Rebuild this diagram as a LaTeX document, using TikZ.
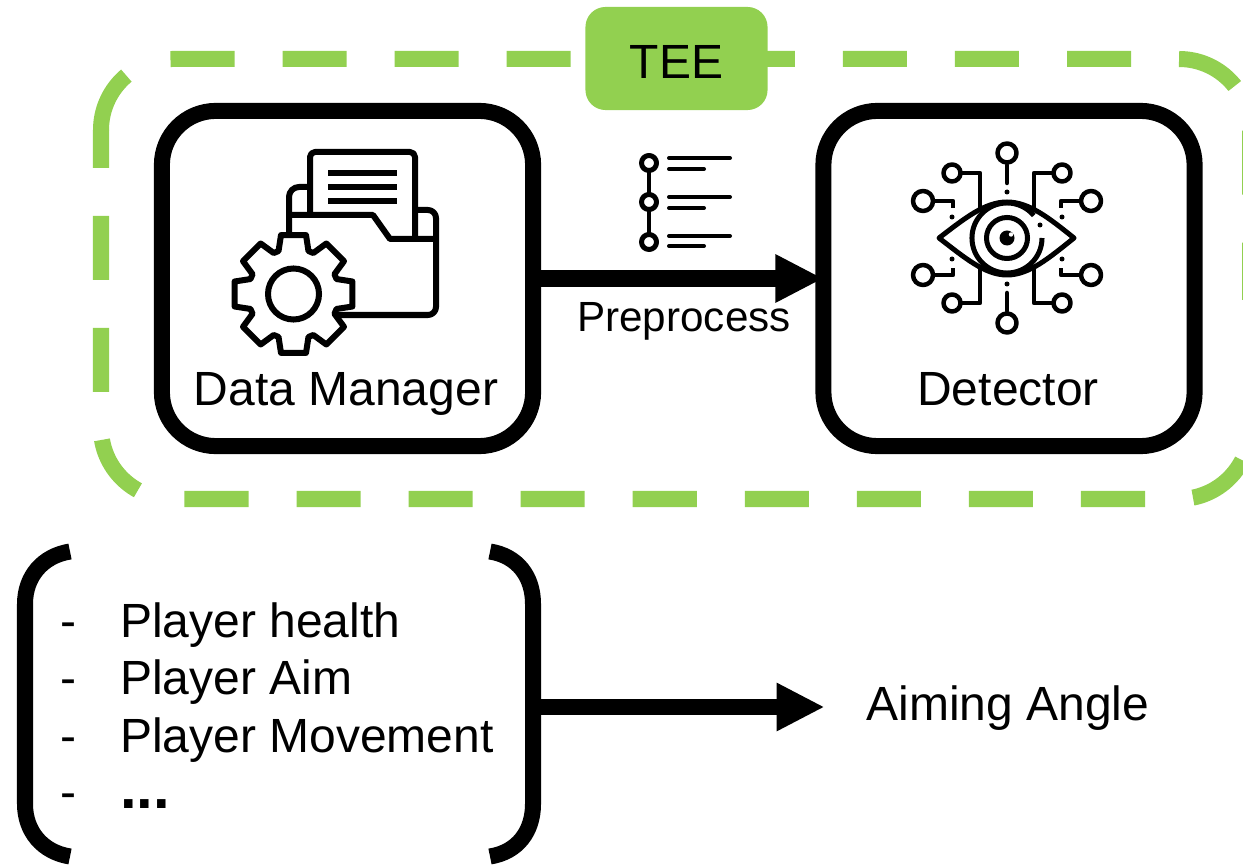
\documentclass[tikz,border=0pt]{standalone}
\usepackage{fontspec}
\setmainfont{Liberation Sans}
\usetikzlibrary{arrows.meta}
\definecolor{teegreen}{HTML}{92D050}
\newcommand{\moreitems}{\fontsize{17}{20}\selectfont\bfseries ...}

\begin{document}
\begin{tikzpicture}[line cap=butt,line join=round,x=0.01cm,y=-0.01cm,
  >={Triangle[length=0.48cm,width=0.45cm]},
  every node/.style={outer sep=0pt,inner sep=0pt},
  bigtext/.style={font=\fontsize{13.65}{16}\selectfont},
  smalltext/.style={font=\fontsize{12}{14}\selectfont},
  blockbox/.style={draw=black,line width=0.16cm,rounded corners=0.54cm,minimum width=3.71cm,minimum height=3.35cm},
  teedash/.style={draw=teegreen,line width=0.16cm,rounded corners=0.71cm,dash pattern=on 0.64cm off 0.48cm},
  flow/.style={->,line width=0.16cm,color=black},
  bracket/.style={line width=0.16cm,color=black},
  icon/.style={line width=0.06cm,color=black},
  thinicon/.style={line width=0.045cm,color=black}]
\useasboundingbox (0,0) rectangle (1243,864);
\draw[teedash,dash phase=0.02cm] (101,130) -- (101,59) -- (1250,59) -- (1250,300);
\draw[teedash,dash phase=0.785cm] (1250,428) -- (1250,499) -- (101,499) -- (101,130);
\node[fill=teegreen,rounded corners=0.2cm,minimum width=1.82cm,minimum height=1.03cm,text height=0.39cm,bigtext] (tee) at (676.5,58.5) {TEE};
\node[blockbox] (dm) at (347.5,278.5) {};
\node[blockbox] (det) at (1009,278.5) {};
\node[bigtext,anchor=base] (dmtext) at (346,406) {Data Manager};
\node[bigtext,anchor=base] (dettext) at (1008,406) {Detector};
\draw[flow] (dm.east) -- (det.west);
\node[smalltext,anchor=base] (pretext) at (684,331) {Preprocess};
\foreach \y in {163,202,242}
\draw[line width=0.05cm,color=black] (649,\y) circle (0.075cm);
\draw[line width=0.035cm,color=black] (649,170.5) -- (649,194.5);
\draw[line width=0.035cm,color=black] (649,209.5) -- (649,234.5);
\foreach \y in {158,197,236}
\draw[line width=0.04cm,line cap=round,color=black] (669,\y) -- (730,\y);
\foreach \y in {169,208,246}
\draw[line width=0.04cm,line cap=round,color=black] (669,\y) -- (704,\y);
\draw[icon,rounded corners=0.05cm] (310,212) -- (310,152) -- (415,152) -- (415,237);
\foreach \y in {173,187,201}
\draw[icon] (328,\y) -- (397,\y);
\draw[icon,rounded corners=0.1cm] (289,240) -- (289,187) -- (310,187);
\draw[icon] (289,215) -- (373,215) -- (390,239) -- (436,239);
\draw[icon,rounded corners=0.08cm] (415,210) -- (436,210) -- (436,315) -- (330,315);
\begin{scope}[shift={(293.5,294)}]
\draw[icon,fill=white] (-19.2:45.5) \foreach \a in {0,45,...,315} {
 -- ({\a-19.2}:45.5) -- ({\a-12}:60.2) -- ({\a+12}:60.2) -- ({\a+19.2}:45.5) -- ({\a+25.8}:45.5)} -- cycle;
\draw[icon] (0,0) circle (0.255cm);
\end{scope}
\begin{scope}[shift={(1007,238)}]
\draw[line width=0.05cm,color=black] (-68,0) .. controls (-42,-20) and (-22,-36) .. (0,-36) .. controls (22,-36) and (42,-20) .. (67,0) .. controls (42,20) and (22,37) .. (0,37) .. controls (-22,37) and (-42,20) .. (-68,0) -- cycle;
\draw[line width=0.05cm,color=black] (35,0) arc[start angle=0,end angle=-320,radius=0.35cm];
\draw[line width=0.05cm,color=black] (0,0) circle (0.205cm);
\fill[color=black] (0,0) circle (0.075cm);
\fill[color=white] (4,-3.5) circle (0.022cm);
\fill[color=black] (33,-13) circle (0.025cm);
\foreach \sx in {-1,1}
\foreach \sy in {-1,1}
{
\draw[thinicon] (\sx*55,\sy*65) circle (0.085cm);
\draw[thinicon] (\sx*46,\sy*65) -- (\sx*27,\sy*65) -- (\sx*27,\sy*30);
\draw[thinicon] (\sx*84,\sy*37) circle (0.1cm);
\draw[thinicon] (\sx*73,\sy*37) -- (\sx*54,\sy*37) -- (\sx*54,\sy*30);
\fill[color=black] (\sx*55,\sy*21) circle (0.025cm);
}
\foreach \sy in {-1,1}
{
\draw[thinicon] (0,\sy*85) circle (0.095cm);
\draw[thinicon,line cap=round] (0,\sy*73) -- (0,\sy*55);
\fill[color=black] (0,\sy*46) circle (0.025cm);
}
\end{scope}
\node[minimum width=5.08cm,minimum height=3.05cm] (inputs) at (279,707) {};
\draw[bracket] (70,551.5) .. controls (42,556) and (25,577) .. (25,604) -- (25,804) .. controls (25,831) and (42,852) .. (70,856.5);
\draw[bracket] (490,551.5) .. controls (518,556) and (533,577) .. (533,604) -- (533,804) .. controls (533,831) and (518,852) .. (490,856.5);
\foreach \n/\y/\t in {1/637/Player health,2/694/Player Aim,3/752/Player Movement,4/808/\moreitems}
{
\node[bigtext,anchor=base west] (dash\n) at (60,\y) {-};
\node[bigtext,anchor=base west] (item\n) at (120,\y) {\t};
}
\node[bigtext,inner xsep=0.44cm,text height=0.34cm,text depth=0.07cm] (aim) at (1008,707) {Aiming Angle};
\draw[flow,shorten >=-0.02cm] (inputs.east) -- (aim.west);
\end{tikzpicture}
\end{document}
